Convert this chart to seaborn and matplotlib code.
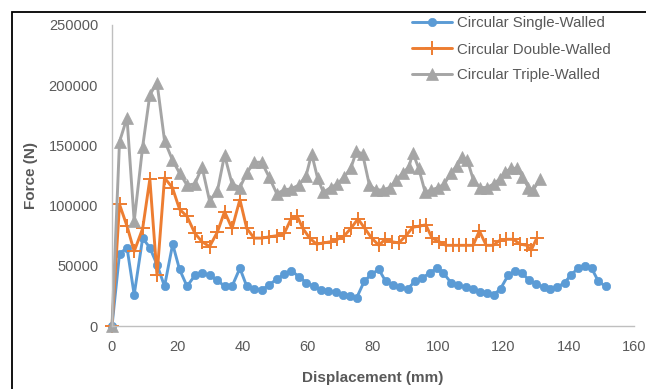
import matplotlib
matplotlib.use("Agg")
import matplotlib.pyplot as plt
import seaborn as sns
import pandas as pd
from matplotlib.patches import Rectangle

# ---- data ----
single_x = [0, 2.3, 4.6, 6.8, 9.4, 11.6, 13.8, 16.1, 18.6, 20.7, 23, 25.4, 27.6, 29.9, 32.3,
            34.5, 36.8, 39.2, 41.3, 43.6, 45.9, 48.1, 50.5, 52.8, 54.9, 57.3, 59.5, 61.8,
            64.1, 66.3, 68.6, 70.9, 73, 75, 77.3, 79.5, 81.8, 83.9, 86.2, 88.4, 90.7, 92.8,
            95.1, 97.4, 99.5, 101.6, 103.9, 106.2, 108.4, 110.7, 112.8, 115, 117.1, 119.1,
            121.4, 123.6, 125.6, 127.9, 130, 132.3, 134.4, 136.4, 138.7, 140.6, 142.8, 145,
            147, 149.1, 151.3]
single_y = [0, 60000, 65000, 26000, 73000, 65000, 51000, 33000, 68000, 47000, 33000, 42000,
            44000, 42000, 38000, 33000, 33000, 48000, 33000, 31000, 30000, 34000, 39000,
            43000, 46000, 41000, 36000, 33000, 30000, 29000, 28000, 26000, 25000, 23500,
            37000, 43000, 47000, 37000, 34000, 32000, 31000, 37000, 40000, 44000, 48000,
            44000, 36000, 34000, 32000, 31000, 28000, 27000, 26000, 31000, 42000, 46000,
            44000, 38000, 35000, 32000, 31000, 32000, 36000, 42000, 48000, 50000, 48000,
            37000, 33000]

double_x = [0, 2.3, 4.6, 6.8, 9.4, 11.6, 13.8, 16.1, 18.5, 20.7, 23, 25.4, 27.6, 29.9, 32.3,
            34.5, 36.8, 39.2, 41.3, 43.6, 45.9, 48.1, 50.5, 52.8, 54.9, 56.8, 58.5, 60.6,
            62.7, 64.8, 67, 69.1, 71.2, 73.2, 75.4, 77.5, 79.6, 81.8, 83.7, 85.8, 87.9, 90.1,
            92.2, 94.3, 96.2, 98.1, 100.3, 102.3, 104.4, 106.5, 108.5, 110.7, 112.6, 114.7,
            116.8, 118.8, 120.9, 123, 125.1, 127.1, 128.5, 130.2]
double_y = [0, 101000, 83000, 62000, 81000, 122000, 42000, 123000, 115000, 97000, 91000,
            77000, 70000, 66000, 78000, 95000, 81000, 105000, 81000, 73000, 73000, 74000,
            75000, 77000, 89000, 91000, 81000, 73000, 68000, 69000, 70000, 72000, 75000,
            81000, 89000, 81000, 73000, 67000, 72000, 70000, 69000, 75000, 82000, 83000,
            84000, 73000, 70000, 67000, 67000, 67000, 67000, 67000, 79000, 67000, 67000,
            71000, 72000, 72000, 68000, 67000, 63000, 73000]

triple_x = [0, 2.3, 4.6, 6.8, 9.4, 11.6, 13.8, 16.1, 18.5, 20.7, 23, 25.4, 27.6, 29.9, 32.3,
            34.5, 36.8, 39.2, 41.3, 43.6, 45.9, 48.1, 50.5, 52.8, 54.9, 57.3, 59.5, 61.2, 63,
            64.8, 67, 69.1, 71.2, 73.2, 74.9, 76.8, 78.9, 80.9, 83, 85.1, 87.1, 89.1, 91,
            92.2, 94, 96, 97.9, 100, 101.9, 103.8, 105.7, 107.3, 108.9, 110.8, 112.8, 115,
            117, 118.8, 120.6, 122.4, 124.1, 125.8, 127.6, 129.1, 131.2]
triple_y = [0, 153000, 173000, 87000, 149000, 192000, 202000, 154000, 138000, 127000,
            117000, 118000, 132000, 104000, 112000, 142000, 118000, 115000, 127000, 136000,
            136000, 124000, 110000, 113000, 114000, 117000, 125000, 143000, 123000, 111000,
            115000, 118000, 124000, 131000, 145000, 143000, 117000, 113000, 113000, 115000,
            121000, 127000, 132000, 144000, 131000, 111000, 113000, 115000, 118000, 127000,
            133000, 140000, 138000, 121000, 115000, 115000, 118000, 122000, 128000, 131000,
            131000, 124000, 115000, 113000, 122000]

labels = ["Circular Single-Walled", "Circular Double-Walled", "Circular Triple-Walled"]
x_ticks = [0, 20, 40, 60, 80, 100, 120, 140, 160]
y_ticks = [0, 50000, 100000, 150000, 200000, 250000]

colors = ["#5B9BD5", "#ED7D31", "#A5A5A5"]
markers = ["o", "+", "^"]
msizes = [6, 9.5, 8.5]

sns.set_theme(style="white")
plt.rcParams["font.family"] = ["Liberation Sans", "DejaVu Sans"]

fig = plt.figure(figsize=(6.46, 3.89), dpi=100)
ax = fig.add_axes([112 / 646, 1 - 326 / 389, (634 - 112) / 646, (326 - 25) / 389])

series = [(single_x, single_y), (double_x, double_y), (triple_x, triple_y)]
for (xs, ys), lab, c, m, ms in zip(series, labels, colors, markers, msizes):
    df = pd.DataFrame({"x": xs, "y": ys})
    sns.lineplot(data=df, x="x", y="y", ax=ax, color=c, marker=m, markersize=ms,
                 markeredgecolor=c, markeredgewidth=1.4 if m == "+" else 0.5,
                 linewidth=2.1, label=lab, sort=False)

ax.set_xlim(0, 160)
ax.set_ylim(0, 250000)
ax.set_xticks(x_ticks)
ax.set_yticks(y_ticks)
ax.set_xticklabels([str(t) for t in x_ticks])
ax.set_yticklabels([str(t) for t in y_ticks])
ax.tick_params(axis="both", length=0, labelsize=10.5, labelcolor="#595959", pad=10)
for s in ["top", "right"]:
    ax.spines[s].set_visible(False)
for s in ["left", "bottom"]:
    ax.spines[s].set_color("#BFBFBF")
    ax.spines[s].set_linewidth(1.0)
ax.grid(False)
ax.set_xlabel("Displacement (mm)", fontsize=11, fontweight="bold", color="#595959", labelpad=12)
ax.set_ylabel("Force (N)", fontsize=11, fontweight="bold", color="#595959", labelpad=8)
for art in ax.get_lines():
    art.set_clip_on(False)

leg = ax.legend(loc="upper right", bbox_to_anchor=(624 / 646, 1 - 3 / 389),
                bbox_transform=fig.transFigure, frameon=False, fontsize=10.8,
                handlelength=2.7, handletextpad=0.3, labelspacing=0.8)
for t in leg.get_texts():
    t.set_color("#595959")

# outer black frame (cut by the image edges as in the reference)
fig.patches.append(Rectangle((11.5 / 646, -0.2), 1.5, 1.2 - 11.5 / 389,
                             transform=fig.transFigure, fill=False,
                             edgecolor="black", linewidth=1.3, zorder=10))

fig.savefig("out.png", dpi=100)
